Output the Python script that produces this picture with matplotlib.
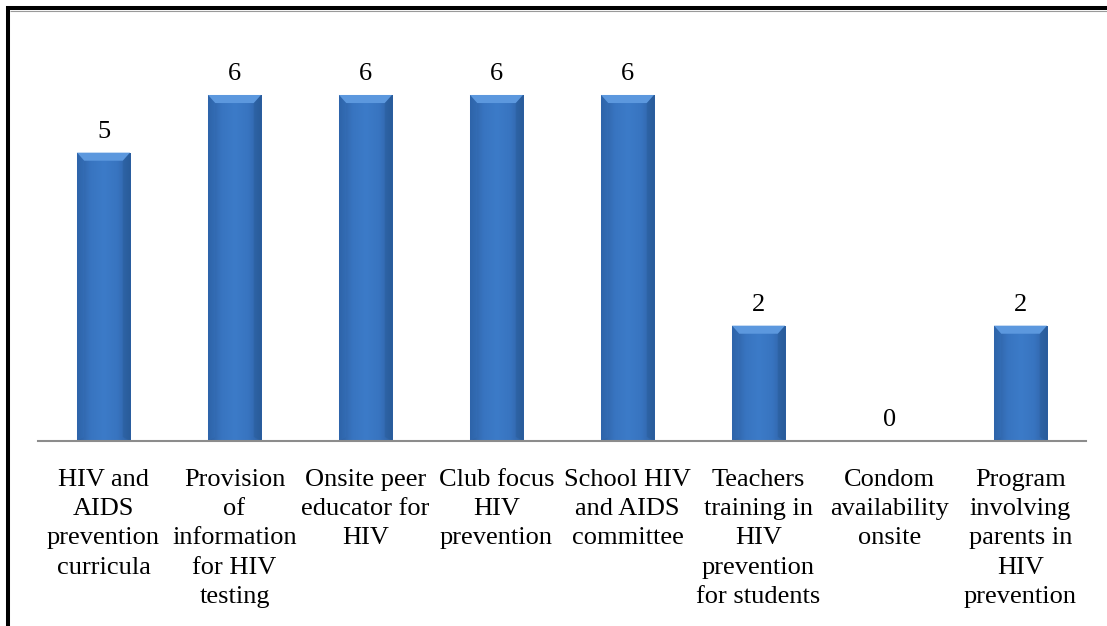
import matplotlib
matplotlib.use("Agg")
import matplotlib.pyplot as plt
import numpy as np
from matplotlib.patches import Polygon
from matplotlib.lines import Line2D
from matplotlib.colors import LinearSegmentedColormap

categories = [
    "HIV and\nAIDS\nprevention\ncurricula",
    "Provision\nof\ninformation\nfor HIV\ntesting",
    "Onsite peer\neducator for\nHIV",
    "Club focus\nHIV\nprevention",
    "School HIV\nand AIDS\ncommittee",
    "Teachers\ntraining in\nHIV\nprevention\nfor students",
    "Condom\navailability\nonsite",
    "Program\ninvolving\nparents in\nHIV\nprevention",
]
values = [5, 6, 6, 6, 6, 2, 0, 2]

W, H, DPI = 1107, 626, 100
fig = plt.figure(figsize=(W / DPI, H / DPI), dpi=DPI)
ax = fig.add_axes([38 / W, (H - 441) / H, 1048 / W, (441 - 37.3) / H])
ax.set_xlim(-0.5, 7.5)
ax.set_ylim(0, 7)

font = dict(family=["Liberation Serif", "DejaVu Serif"], size=19)

bw = 0.405
bx = 0.055   # bevel width in x data units
by = 0.14    # bevel height in y data units
hcmap = LinearSegmentedColormap.from_list(
    "h", ["#2b5e9f", "#3874c0", "#3c7bc8", "#3874c0", "#2b5e9f"])

x = np.arange(len(values))
bars = ax.bar(x, values, width=bw, color="#3a78c4", edgecolor="none", zorder=2)
for xi, v, b in zip(x, values, bars):
    if v > 0:
        l, r = xi - bw / 2, xi + bw / 2
        grad = np.linspace(0, 1, 256).reshape(1, -1)
        im = ax.imshow(grad, extent=(l, r, 0, v), aspect="auto", cmap=hcmap,
                       zorder=3, interpolation="bilinear")
        im.set_clip_path(b)
        # top bevel
        ax.add_patch(Polygon([(l, v), (r, v), (r - bx, v - by), (l + bx, v - by)],
                             closed=True, facecolor="#5c98de", edgecolor="none", zorder=4))
        # left / right bevels
        ax.add_patch(Polygon([(l, v), (l + bx, v - by), (l + bx, by * 0.5), (l, 0)],
                             closed=True, facecolor="#3471bd", edgecolor="none", zorder=4, alpha=0.35))
        ax.add_patch(Polygon([(r, v), (r - bx, v - by), (r - bx, by * 0.5), (r, 0)],
                             closed=True, facecolor="#25568f", edgecolor="none", zorder=4, alpha=0.35))
    ax.annotate(str(v), (xi, v), xytext=(0, 10), textcoords="offset pixels",
                ha="center", va="bottom", **font)

ax.set_xticks(x)
ax.set_xticklabels(categories, linespacing=1.43, **font)
ax.tick_params(axis="x", length=0, pad=20)
ax.set_yticks([])
for s in ["top", "right", "left"]:
    ax.spines[s].set_visible(False)
ax.spines["bottom"].set_color("#8c8c8c")
ax.spines["bottom"].set_linewidth(1.5)
ax.spines["bottom"].set_zorder(5)

# page border lines (left and top)
fig.add_artist(Line2D([8 / W, 8 / W], [0, (H - 6) / H], color="black", lw=2.9,
                      transform=fig.transFigure, solid_capstyle="butt"))
fig.add_artist(Line2D([6 / W, 1], [(H - 8) / H, (H - 8) / H], color="black", lw=2.9,
                      transform=fig.transFigure, solid_capstyle="butt"))
fig.add_artist(Line2D([10 / W, 1], [(H - 10.5) / H, (H - 10.5) / H], color="#9a9a9a", lw=0.8,
                      transform=fig.transFigure, solid_capstyle="butt"))

fig.savefig("out.png", dpi=DPI)
